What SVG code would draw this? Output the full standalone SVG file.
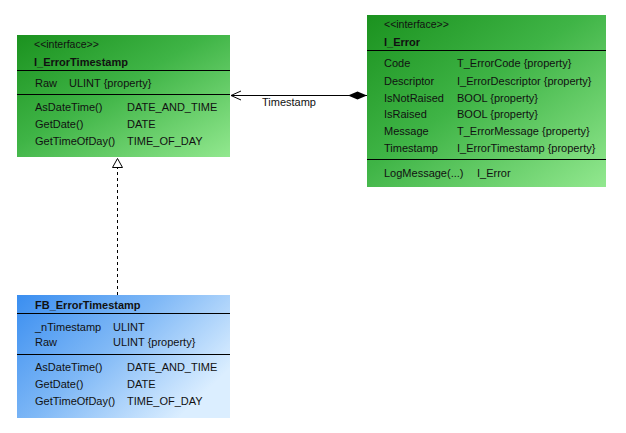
<svg xmlns="http://www.w3.org/2000/svg" width="626" height="433" viewBox="0 0 626 433">
<defs>
<linearGradient id="gGreen" x1="0" y1="0" x2="1" y2="1">
<stop offset="0" stop-color="#1b921f"/>
<stop offset="0.45" stop-color="#3fb446"/>
<stop offset="1" stop-color="#92e88f"/>
</linearGradient>
<linearGradient id="gBlue" x1="0" y1="0" x2="1" y2="0.6">
<stop offset="0" stop-color="#3a8ef0"/>
<stop offset="0.5" stop-color="#7fb8f6"/>
<stop offset="1" stop-color="#dbeeff"/>
</linearGradient>
<marker id="openArrow" viewBox="0 0 12 12" refX="0" refY="6" markerWidth="12" markerHeight="12" markerUnits="userSpaceOnUse" orient="auto">
<path d="M10,1.5 L0,6 L10,10.5" fill="none" stroke="#000" stroke-width="1"/>
</marker>
<marker id="diamond" viewBox="0 0 20 10" refX="19" refY="5" markerWidth="20" markerHeight="10" markerUnits="userSpaceOnUse" orient="auto">
<path d="M0,5 L9.5,1 L19,5 L9.5,9 Z" fill="#000"/>
</marker>
<marker id="triangle" viewBox="0 0 12 12" refX="11" refY="6" markerWidth="12" markerHeight="12" markerUnits="userSpaceOnUse" orient="auto">
<path d="M10.5,6 L1.5,1 L1.5,11 Z" fill="#fff" stroke="#000" stroke-width="1"/>
</marker>
</defs>
<style>
text{font-family:"Liberation Sans",Arial,sans-serif;font-size:11px;fill:#111;}
.st{font-size:10.5px;}
.nm{font-weight:bold;}
.sep{stroke:#000;stroke-width:1;}
.conn{stroke:#000;stroke-width:1;fill:none;}
</style>
<rect width="626" height="433" fill="#fff"/>
<g id="I_ErrorTimestamp">
<rect x="17" y="35" width="213" height="122" fill="url(#gGreen)"/>
<text class="st" x="34" y="48">&lt;&lt;interface&gt;&gt;</text>
<text class="nm" x="34" y="66">I_ErrorTimestamp</text>
<line class="sep" x1="17" y1="70.5" x2="230" y2="70.5"/>
<text x="35" y="87">Raw</text>
<text x="69" y="87">ULINT {property}</text>
<line class="sep" x1="17" y1="94.5" x2="230" y2="94.5"/>
<text x="35" y="111">AsDateTime()</text>
<text x="127" y="111">DATE_AND_TIME</text>
<text x="35" y="128">GetDate()</text>
<text x="127" y="128">DATE</text>
<text x="35" y="145">GetTimeOfDay()</text>
<text x="127" y="145">TIME_OF_DAY</text>
</g>
<g id="I_Error">
<rect x="367" y="15" width="239" height="172" fill="url(#gGreen)"/>
<text class="st" x="384" y="28">&lt;&lt;interface&gt;&gt;</text>
<text class="nm" x="384" y="46">I_Error</text>
<line class="sep" x1="367" y1="50.5" x2="606" y2="50.5"/>
<text x="384" y="67">Code</text>
<text x="457" y="67">T_ErrorCode {property}</text>
<text x="384" y="85">Descriptor</text>
<text x="457" y="85">I_ErrorDescriptor {property}</text>
<text x="384" y="102">IsNotRaised</text>
<text x="457" y="102">BOOL {property}</text>
<text x="384" y="118">IsRaised</text>
<text x="457" y="118">BOOL {property}</text>
<text x="384" y="135">Message</text>
<text x="457" y="135">T_ErrorMessage {property}</text>
<text x="384" y="152">Timestamp</text>
<text x="457" y="152">I_ErrorTimestamp {property}</text>
<line class="sep" x1="367" y1="159.5" x2="606" y2="159.5"/>
<text x="384" y="177">LogMessage(...)</text>
<text x="477" y="177">I_Error</text>
</g>
<g id="FB_ErrorTimestamp">
<rect x="17" y="295" width="213" height="123" fill="url(#gBlue)"/>
<text class="nm" x="35" y="309">FB_ErrorTimestamp</text>
<line class="sep" x1="17" y1="313.5" x2="230" y2="313.5"/>
<text x="35" y="331">_nTimestamp</text>
<text x="113" y="331">ULINT</text>
<text x="35" y="346">Raw</text>
<text x="113" y="346">ULINT {property}</text>
<line class="sep" x1="17" y1="354.5" x2="230" y2="354.5"/>
<text x="35" y="371">AsDateTime()</text>
<text x="127" y="371">DATE_AND_TIME</text>
<text x="35" y="388">GetDate()</text>
<text x="127" y="388">DATE</text>
<text x="35" y="405">GetTimeOfDay()</text>
<text x="127" y="405">TIME_OF_DAY</text>
</g>
<g id="connectors">
<line class="conn" x1="231" y1="95.5" x2="367" y2="95.5" marker-start="url(#openArrow)" marker-end="url(#diamond)"/>
<text x="262" y="106">Timestamp</text>
<line class="conn" x1="117.5" y1="295" x2="117.5" y2="158" stroke-dasharray="3,3" marker-end="url(#triangle)"/>
</g>
</svg>
